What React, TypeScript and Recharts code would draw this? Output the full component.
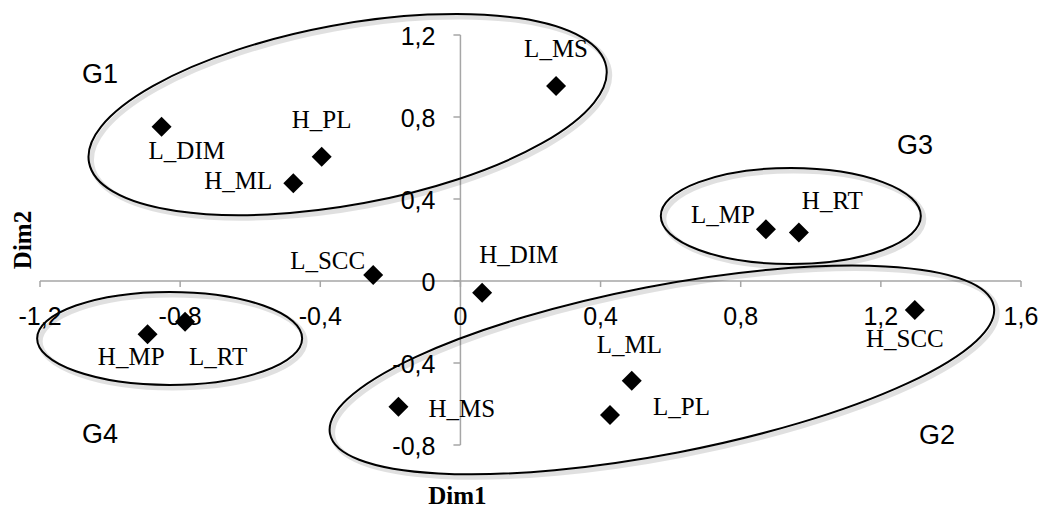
import { ScatterChart, Scatter, XAxis, YAxis, ReferenceLine, ReferenceDot } from 'recharts'

// factor map coordinates
const names = ['L_MS', 'L_DIM', 'H_PL', 'H_ML', 'L_SCC', 'H_DIM', 'L_MP', 'H_RT', 'H_SCC', 'H_MP', 'L_RT', 'H_MS', 'L_ML', 'L_PL']
const dim1 = [0.273, -0.853, -0.396, -0.477, -0.249, 0.062, 0.872, 0.966, 1.297, -0.893, -0.786, -0.177, 0.489, 0.427]
const dim2 = [0.951, 0.753, 0.606, 0.477, 0.029, -0.057, 0.252, 0.236, -0.141, -0.260, -0.199, -0.613, -0.486, -0.654]

const xTicks = [-1.2, -0.8, -0.4, 0, 0.4, 0.8, 1.2, 1.6]
const yTicks = [-0.8, -0.4, 0, 0.4, 0.8, 1.2]

// group annotations: ellipse centre + label anchor, in data units
const groups = ['G1', 'G2', 'G3', 'G4']
const groupCx = [-0.322, 0.575, 0.943, -0.830]
const groupCy = [0.812, -0.434, 0.317, -0.280]
const groupLabelX = [-1.080, 1.309, 1.246, -1.080]
const groupLabelY = [0.966, -0.795, 0.620, -0.790]

// ellipse shape (px): rx, ry, rotation
const ELLIPSE: Record<string, [number, number, number]> = {
  G1: [263, 90, -10.5],
  G2: [338, 84, -10.9],
  G3: [130, 48, 0],
  G4: [132.5, 46.5, 0],
}

// label placement relative to marker: dx, dy (baseline), anchor
const LABEL_POS: Record<string, [number, number, 'start' | 'middle' | 'end']> = {
  L_MS: [0, -29, 'middle'],
  L_DIM: [-13, 32, 'start'],
  H_PL: [0, -29, 'middle'],
  H_ML: [-21, 6, 'end'],
  L_SCC: [-8, -6, 'end'],
  H_DIM: [-3, -30, 'start'],
  L_MP: [-11, -6, 'end'],
  H_RT: [3, -24, 'start'],
  H_SCC: [-10, 37, 'middle'],
  H_MP: [17, 31, 'end'],
  L_RT: [4, 43, 'start'],
  H_MS: [30, 10, 'start'],
  L_ML: [-35, -28, 'start'],
  L_PL: [43, 0, 'start'],
}

const points = names.map((name, i) => ({ name, x: dim1[i], y: dim2[i] }))

const W = 1046
const H = 511
const MARGIN = { top: 35, right: 25, bottom: 65, left: 39 }
const X_DOMAIN = [-1.2, 1.6]
const Y_DOMAIN = [-0.8, 1.2]
const PLOT_L = MARGIN.left + 1
const PLOT_R = W - MARGIN.right
const PLOT_T = MARGIN.top
const PLOT_B = H - MARGIN.bottom - 1
const ZERO_X = PLOT_L + (PLOT_R - PLOT_L) * (0 - X_DOMAIN[0]) / (X_DOMAIN[1] - X_DOMAIN[0])
const ZERO_Y = PLOT_T + (PLOT_B - PLOT_T) * (Y_DOMAIN[1] - 0) / (Y_DOMAIN[1] - Y_DOMAIN[0])

const AXIS = '#a6a6a6'
const SANS = '"Liberation Sans", Arial, sans-serif'
const SERIF = '"Liberation Serif", "Times New Roman", serif'

const fmt = (v: number) => (Math.round(v * 10) / 10).toString().replace('.', ',')

const XTick = (props: any) => {
  const { x, payload } = props
  return (
    <g>
      <line x1={x} x2={x} y1={ZERO_Y} y2={ZERO_Y + 6} stroke={AXIS} strokeWidth={1.5} />
      <text x={x} y={ZERO_Y + 44} textAnchor="middle" fontFamily={SANS} fontSize={25} fill="#000">
        {fmt(payload.value)}
      </text>
    </g>
  )
}

const YTick = (props: any) => {
  const { y, payload } = props
  return (
    <g>
      <line x1={ZERO_X - 7} x2={ZERO_X} y1={y} y2={y} stroke={AXIS} strokeWidth={1.5} />
      <text x={ZERO_X - 25} y={y + 10} textAnchor="end" fontFamily={SANS} fontSize={25} fill="#000">
        {fmt(payload.value)}
      </text>
    </g>
  )
}

const Diamond = (props: any) => {
  const { cx, cy, payload } = props
  const s = 10
  const [dx, dy, anchor] = LABEL_POS[payload.name] ?? [0, -20, 'middle']
  return (
    <g>
      <polygon points={`${cx},${cy - s} ${cx + s},${cy} ${cx},${cy + s} ${cx - s},${cy}`} fill="#000" />
      <text x={cx + dx} y={cy + dy} textAnchor={anchor} fontFamily={SERIF} fontSize={25} fill="#000">
        {payload.name}
      </text>
    </g>
  )
}

const groupEllipse = (g: string) => (props: any) => {
  const { cx, cy } = props
  const [rx, ry, rot] = ELLIPSE[g]
  return (
    <g>
      <ellipse cx={cx + 3} cy={cy + 3} rx={rx} ry={ry} transform={`rotate(${rot} ${cx + 3} ${cy + 3})`}
        fill="none" stroke="#000" strokeOpacity={0.12} strokeWidth={5} />
      <ellipse cx={cx} cy={cy} rx={rx} ry={ry} transform={`rotate(${rot} ${cx} ${cy})`}
        fill="none" stroke="#000" strokeWidth={2} />
    </g>
  )
}

const groupLabel = (g: string) => (props: any) => (
  <text x={props.cx} y={props.cy} fontFamily={SANS} fontSize={27} fill="#000">{g}</text>
)

const xTitle = () => (
  <text x={ZERO_X - 3} y={504} textAnchor="middle" fontFamily={SERIF} fontWeight="bold" fontSize={25} fill="#000">Dim1</text>
)

const yTitle = () => (
  <text x={31} y={240} transform="rotate(-90 31 240)" textAnchor="middle" fontFamily={SERIF} fontWeight="bold" fontSize={25} fill="#000">Dim2</text>
)

export default function App() {
  return (
    <div style={{ position: 'fixed', left: 0, top: 0, background: '#fff' }}>
      <ScatterChart width={W} height={H} margin={MARGIN}>
        <XAxis
          type="number"
          dataKey="x"
          domain={X_DOMAIN}
          ticks={xTicks}
          interval={0}
          height={1}
          axisLine={false}
          tickLine={false}
          tick={<XTick />}
          allowDataOverflow
          label={xTitle}
        />
        <YAxis
          type="number"
          dataKey="y"
          domain={Y_DOMAIN}
          ticks={yTicks}
          interval={0}
          width={1}
          axisLine={false}
          tickLine={false}
          tick={<YTick />}
          allowDataOverflow
          label={yTitle}
        />
        <ReferenceLine x={0} stroke={AXIS} strokeWidth={1.5} />
        <ReferenceLine y={0} stroke={AXIS} strokeWidth={1.5} />
        {groups.map((g, i) => (
          <ReferenceDot key={g} x={groupCx[i]} y={groupCy[i]} r={1} shape={groupEllipse(g)} />
        ))}
        {groups.map((g, i) => (
          <ReferenceDot key={g + 'l'} x={groupLabelX[i]} y={groupLabelY[i]} r={1} shape={groupLabel(g)} />
        ))}
        <Scatter data={points} shape={Diamond} isAnimationActive={false} />
      </ScatterChart>
    </div>
  )
}
